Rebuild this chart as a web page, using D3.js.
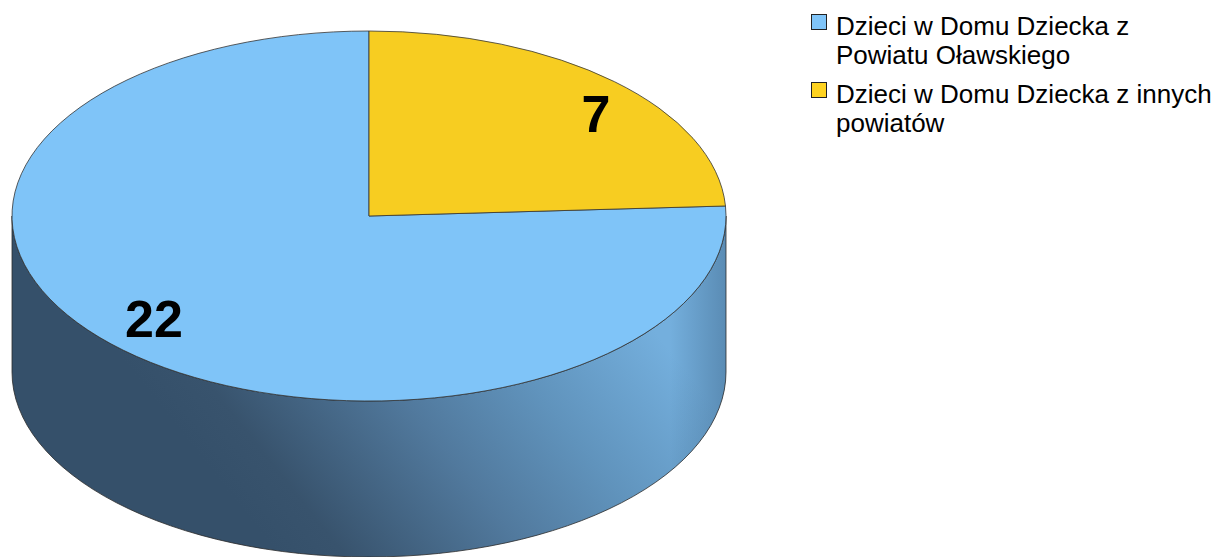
<!DOCTYPE html>
<html>
<head>
<meta charset="utf-8">
<script src="https://cdn.jsdelivr.net/npm/d3@7"></script>
<style>
  body { margin: 0; background: #fff; }
  svg { display: block; }
</style>
</head>
<body>
<svg id="chart" width="1222" height="557"></svg>
<script>
// data
var categories = ["Dzieci w Domu Dziecka z Powiatu Oławskiego", "Dzieci w Domu Dziecka z innych powiatów"];
var values = [22, 7];
var legendLines = [["Dzieci w Domu Dziecka z", "Powiatu Oławskiego"], ["Dzieci w Domu Dziecka z innych", "powiatów"]];
var topColors = ["#7fc4f8", "#f7cd21"];
var legendColors = ["#80c5f9", "#ffd320"];

var width = 1222, height = 557;
var cx = 369, cy = 216, rx = 357, ry = 185, depth = 156;
var TAU = Math.PI * 2;

var svg = d3.select("#chart");

// gradient for the side wall, light from upper right
var defs = svg.append("defs");
var grad = defs.append("linearGradient")
    .attr("id", "sideGrad")
    .attr("gradientUnits", "userSpaceOnUse")
    .attr("x1", 290).attr("y1", 570)
    .attr("x2", 630).attr("y2", 300);
grad.append("stop").attr("offset", 0).attr("stop-color", "#35506a");
grad.append("stop").attr("offset", 0.12).attr("stop-color", "#38536d");
grad.append("stop").attr("offset", 0.45).attr("stop-color", "#51799d");
grad.append("stop").attr("offset", 0.7).attr("stop-color", "#6093bc");
grad.append("stop").attr("offset", 1).attr("stop-color", "#74afdd");

var rim = defs.append("linearGradient")
    .attr("id", "rimGrad")
    .attr("gradientUnits", "userSpaceOnUse")
    .attr("x1", 670).attr("y1", 0)
    .attr("x2", 726).attr("y2", 0);
rim.append("stop").attr("offset", 0).attr("stop-color", "#2a4a68").attr("stop-opacity", 0);
rim.append("stop").attr("offset", 1).attr("stop-color", "#2a4a68").attr("stop-opacity", 0.35);

// pie starting so the small slice begins at 12 o'clock
var total = d3.sum(values);
var start = -TAU * values[0] / total;
var pie = d3.pie().sort(null).startAngle(start).endAngle(start + TAU);
var arcs = pie(values);

function pt(a, dy) {
    return [cx + rx * Math.sin(a), cy - ry * Math.cos(a) + (dy || 0)];
}

// side walls (only front half is visible: angles PI/2 .. 3PI/2)
var sides = [];
arcs.forEach(function(d, i) {
    var s = ((d.startAngle % TAU) + TAU) % TAU;
    var e = s + (d.endAngle - d.startAngle);
    [0, TAU].forEach(function(off) {
        var a0 = Math.max(s, Math.PI / 2 + off);
        var a1 = Math.min(e, Math.PI * 1.5 + off);
        if (a1 > a0) sides.push({i: i, a0: a0, a1: a1});
    });
});

function sidePath(d) {
    var p0 = pt(d.a0), p1 = pt(d.a1), b1 = pt(d.a1, depth), b0 = pt(d.a0, depth);
    return "M" + p0 + "A" + rx + "," + ry + " 0 0 1 " + p1 +
        "L" + b1 + "A" + rx + "," + ry + " 0 0 0 " + b0 + "Z";
}

var sideG = svg.append("g");
sideG.selectAll("path.side")
    .data(sides)
    .enter().append("path")
    .attr("class", "side")
    .attr("d", sidePath)
    .attr("fill", "url(#sideGrad)");
sideG.selectAll("path.rim")
    .data(sides)
    .enter().append("path")
    .attr("class", "rim")
    .attr("d", sidePath)
    .attr("fill", "url(#rimGrad)")
    .attr("stroke", "#2b2b2b")
    .attr("stroke-width", 0.8);

// top slices
function topPath(d) {
    var p0 = pt(d.startAngle), p1 = pt(d.endAngle);
    var large = (d.endAngle - d.startAngle) > Math.PI ? 1 : 0;
    return "M" + [cx, cy] + "L" + p0 + "A" + rx + "," + ry + " 0 " + large + " 1 " + p1 + "Z";
}

svg.append("g").selectAll("path")
    .data(arcs)
    .enter().append("path")
    .attr("d", topPath)
    .attr("fill", (d, i) => topColors[i])
    .attr("stroke", "#333")
    .attr("stroke-width", 0.8)
    .attr("stroke-linejoin", "round");

// value labels
svg.append("g").selectAll("text")
    .data(arcs)
    .enter().append("text")
    .attr("x", function(d) {
        var m = (d.startAngle + d.endAngle) / 2;
        return cx + rx * 0.9 * Math.sin(m) + 6;
    })
    .attr("y", function(d) {
        var m = (d.startAngle + d.endAngle) / 2;
        return cy - ry * 0.765 * Math.cos(m);
    })
    .attr("dy", "0.36em")
    .attr("text-anchor", "middle")
    .style("font", "bold 52px 'Liberation Sans', Arial, sans-serif")
    .attr("fill", "#000")
    .text(d => d.data);

// legend
var legend = svg.append("g").attr("transform", "translate(811,0)");
var item = legend.selectAll("g")
    .data(categories)
    .enter().append("g")
    .attr("transform", (d, i) => "translate(0," + (35 + i * 68) + ")");
item.append("rect")
    .attr("x", 0.5).attr("y", -20.5)
    .attr("width", 15).attr("height", 15)
    .attr("fill", (d, i) => legendColors[i])
    .attr("stroke", "#222")
    .attr("stroke-width", 1);
item.append("text")
    .style("font", "26px 'Liberation Sans', Arial, sans-serif")
    .attr("fill", "#000")
    .selectAll("tspan")
    .data((d, i) => legendLines[i])
    .enter().append("tspan")
    .attr("x", 25)
    .attr("y", (d, j) => j * 29)
    .text(d => d);
</script>
</body>
</html>
